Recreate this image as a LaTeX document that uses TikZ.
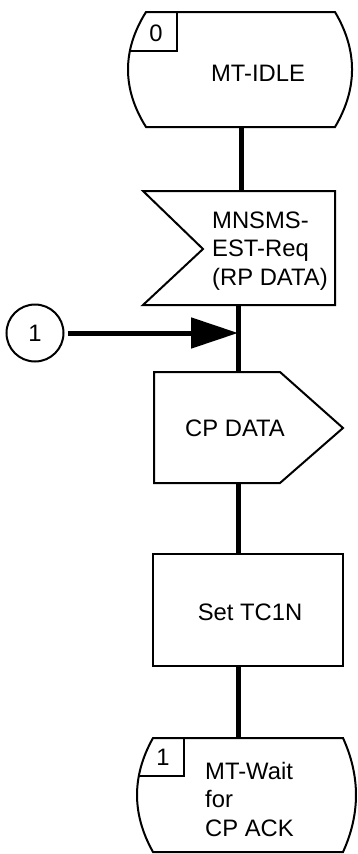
\documentclass[tikz,border=0pt]{standalone}
\usepackage{fontspec}
\setmainfont{Liberation Sans}
\usetikzlibrary{arrows.meta}
\begin{document}
\begin{tikzpicture}[x=1pt,y=-1pt,
  outline/.style={draw, line width=2pt, line join=miter},
  flow/.style={line width=5pt},
  lbl/.style={font=\fontsize{23.8}{28.5}\selectfont, inner sep=0pt}]
\useasboundingbox (0,0) rectangle (358,854);
% state 0
\draw[outline] (146,12) -- (335,12) .. controls (357.7,50.3) and (357.7,88.7) .. (335,127)
  -- (146,127) .. controls (122,88.7) and (122,50.3) .. (146,12) -- cycle;
\draw[outline] (177,12) -- (177,51) -- (130,51);
\node[lbl] (s0num) at (156,33) {0};
\node[lbl] (s0txt) at (258,73) {MT-IDLE};
% input signal
\draw[outline] (143,191) -- (335,191) -- (335,305) -- (143,305) -- (203,249) -- cycle;
\node[lbl, align=left, anchor=west] (intxt) at (212,251) {MNSMS-\\EST-Req\\(RP DATA)};
% output signal
\draw[outline] (154,372) -- (280,372) -- (343,428) -- (280,483) -- (154,483) -- cycle;
\node[lbl] (outtxt) at (235,428) {CP DATA};
% task
\draw[outline] (153,554) rectangle (343,666);
\node[lbl] (tasktxt) at (250,612) {Set TC1N};
% state 1
\draw[outline] (153,738) -- (343,738) .. controls (360.3,776) and (360.3,814) .. (343,852)
  -- (153,852) .. controls (131.7,814) and (131.7,776) .. (153,738) -- cycle;
\draw[outline] (184,738) -- (184,776) -- (139,776);
\node[lbl] (s1num) at (163,757) {1};
\node[lbl, align=left, anchor=west] (s1txt) at (205,799) {MT-Wait\\for\\CP ACK};
% connector circle
\node[lbl, draw, circle, line width=2pt, minimum size=57pt] (c1) at (35,333) {1};
% connection points
\coordinate (s0b) at (241,127);
\coordinate (inT) at (241,191);
\coordinate (inB) at (238,305);
\coordinate (outT) at (238,372);
\coordinate (outB) at (238,483);
\coordinate (taskT) at (238,554);
\coordinate (taskB) at (238,666);
\coordinate (s1T) at (238,738);
\coordinate (jn) at (238,333);
% connectors
\draw[flow] (s0b) -- (inT);
\draw[flow] (inB) -- (outT);
\draw[flow] (outB) -- (taskT);
\draw[flow] (taskB) -- (s1T);
\draw[flow, shorten <=3pt, -{Triangle[length=47pt,width=30pt]}] (c1.east) -- (jn);
\end{tikzpicture}
\end{document}
